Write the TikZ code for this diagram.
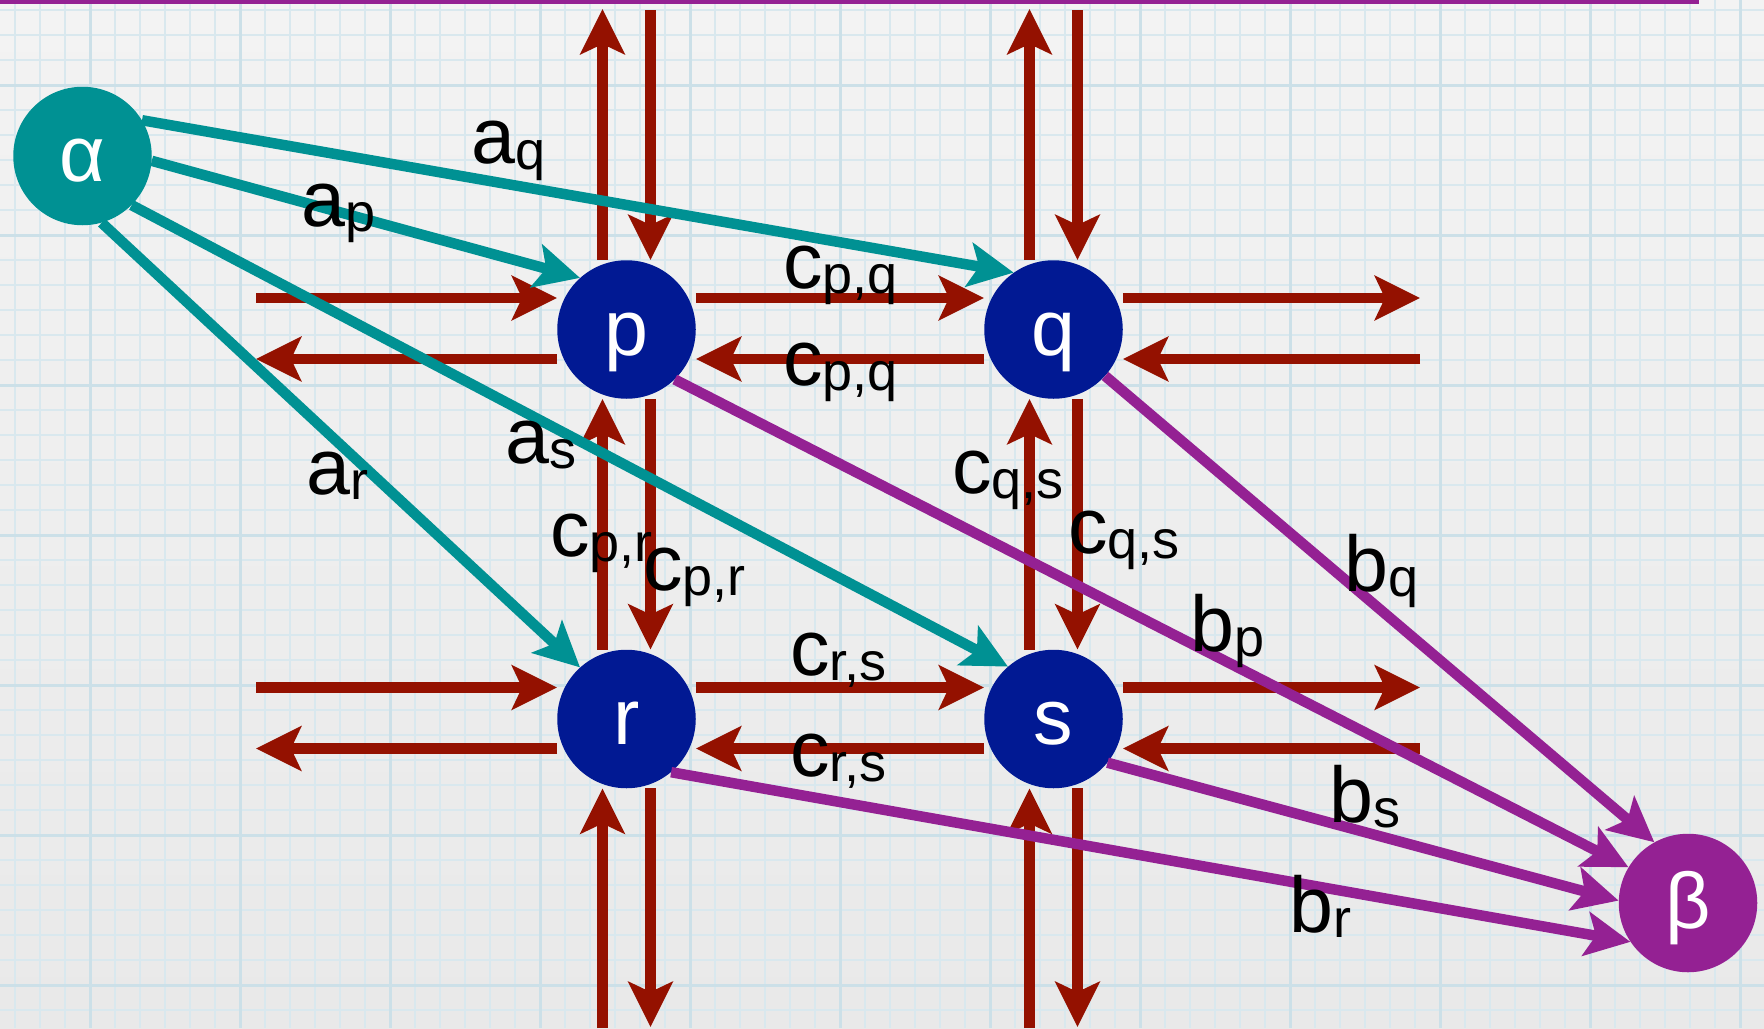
\documentclass[tikz,border=0pt]{standalone}
\usepackage{fontspec}
\setmainfont{Liberation Sans}
\usetikzlibrary{arrows.meta}

\definecolor{flowred}{HTML}{941100}
\definecolor{nodeblue}{HTML}{011993}
\definecolor{sourceteal}{HTML}{009193}
\definecolor{sinkpurple}{HTML}{942193}
\definecolor{papertop}{HTML}{F3F3F3}
\definecolor{paperbottom}{HTML}{E9E9E9}
\definecolor{gridminor}{HTML}{D9E8EE}
\definecolor{gridmajor}{HTML}{CCE0E8}

\newcommand{\bigsize}{\fontsize{79}{79}\selectfont}
\newcommand{\flowlab}[2]{{\bigsize #1\raisebox{-5.5pt}{\fontsize{54}{54}\selectfont #2}}}

\begin{document}
\begin{tikzpicture}[x=1pt,y=-1pt,
  vertex/.style={circle, minimum size=138.5pt, inner sep=0pt, text=white,
    font=\bigsize, text height=58pt, text depth=7pt},
  tip/.style={-{Stealth[length=45pt,width=44pt,inset=10pt]}},
  flow/.style={tip, draw=flowred, line width=10.5pt},
  source/.style={tip, draw=sourceteal, line width=10.5pt},
  sink/.style={tip, draw=sinkpurple, line width=10.5pt},
  lab/.style={anchor=base west, inner sep=0pt, text=black}]

% paper and grid
\useasboundingbox (0,0) rectangle (1764,1028);
\shade[top color=papertop, bottom color=paperbottom] (0,0) rectangle (1764,1028);
\begin{scope}
  \clip (0,0) rectangle (1764,1028);
  \foreach \k in {0,...,70} \draw[gridminor, line width=2pt] (15+25*\k,0) -- (15+25*\k,1028);
  \foreach \k in {0,...,41} \draw[gridminor, line width=2pt] (0,9.5+25*\k) -- (1764,9.5+25*\k);
  \foreach \k in {0,...,11} \draw[gridmajor, line width=3pt] (90+150*\k,0) -- (90+150*\k,1028);
  \foreach \k in {0,...,6} \draw[gridmajor, line width=3pt] (0,85+150*\k) -- (1764,85+150*\k);
\end{scope}
\fill[sinkpurple] (0,0) rectangle (1699,4);

% vertices
\node[vertex, fill=sourceteal] (alpha) at (82.5,156) {α};
\node[vertex, fill=nodeblue] (p) at (626.5,329.5) {p};
\node[vertex, fill=nodeblue] (q) at (1053.5,329.5) {q};
\node[vertex, fill=nodeblue] (r) at (626.5,719) {r};
\node[vertex, fill=nodeblue] (s) at (1053.5,719) {s};
\node[vertex, fill=sinkpurple] (beta) at (1688,903) {β};

% free ends of the boundary flows
\coordinate (pW1) at (256,298);   \coordinate (pW2) at (256,359);
\coordinate (rW1) at (256,687.5); \coordinate (rW2) at (256,748.5);
\coordinate (qE1) at (1420,298);  \coordinate (qE2) at (1420,359);
\coordinate (sE1) at (1420,687.5);\coordinate (sE2) at (1420,748.5);
\coordinate (pN1) at (602.5,9);   \coordinate (pN2) at (650.5,10);
\coordinate (qN1) at (1029.5,9);  \coordinate (qN2) at (1077.5,10);
\coordinate (rS1) at (602.5,1028);\coordinate (rS2) at (650.5,1027);
\coordinate (sS1) at (1029.5,1028);\coordinate (sS2) at (1077.5,1027);

% horizontal flows
\foreach \a/\b/\w/\e in {p/q/pW/qE, r/s/rW/sE}{
  \draw[flow] (\w1) -- ([yshift=31.5pt]\a.west);
  \draw[flow] ([yshift=-29.5pt]\a.west) -- (\w2);
  \draw[flow] ([yshift=31.5pt]\a.east) -- ([yshift=31.5pt]\b.west);
  \draw[flow] ([yshift=-29.5pt]\b.west) -- ([yshift=-29.5pt]\a.east);
  \draw[flow] ([yshift=31.5pt]\b.east) -- (\e1);
  \draw[flow] (\e2) -- ([yshift=-29.5pt]\b.east);
}
% vertical flows
\foreach \a/\b/\n/\m in {p/r/pN/rS, q/s/qN/sS}{
  \draw[flow] ([xshift=-24pt]\a.north) -- (\n1);
  \draw[flow] (\n2) -- ([xshift=24pt]\a.north);
  \draw[flow] ([xshift=-24pt]\b.north) -- ([xshift=-24pt]\a.south);
  \draw[flow] ([xshift=24pt]\a.south) -- ([xshift=24pt]\b.north);
  \draw[flow] (\m1) -- ([xshift=-24pt]\b.south);
  \draw[flow] ([xshift=24pt]\b.south) -- (\m2);
}

% source edges
\draw[source] (alpha.31) -- (q.125);
\draw[source] (alpha.-4.7) -- (p.132);
\draw[source] (alpha.-45) -- (s.131);
\draw[source] (alpha.-74) -- (r.132);

% sink edges
\draw[sink] (p.-46) -- (beta.149);
\draw[sink] (q.-42.6) -- (beta.119);
\draw[sink] (s.-39.6) -- (beta.178);
\draw[sink] (r.-50.4) -- (beta.214);

% capacities
\node[lab] (laq) at (471,163.5) {\flowlab{a}{q}};
\node[lab] (lap) at (301,226) {\flowlab{a}{p}};
\node[lab] (lar) at (306,494) {\flowlab{a}{r}};
\node[lab] (las) at (505,463) {\flowlab{a}{s}};
\node[lab] (lpq1) at (783,288) {\flowlab{c}{p,q}};
\node[lab] (lpq2) at (783,385) {\flowlab{c}{p,q}};
\node[lab] (lqs1) at (952,493) {\flowlab{c}{q,s}};
\node[lab] (lqs2) at (1068,553) {\flowlab{c}{q,s}};
\node[lab] (lpr1) at (550,556) {\flowlab{c}{p,r}};
\node[lab] (lpr2) at (643,590) {\flowlab{c}{p,r}};
\node[lab] (lrs1) at (790,675) {\flowlab{c}{r,s}};
\node[lab] (lrs2) at (790,776) {\flowlab{c}{r,s}};
\node[lab] (lbq) at (1344,591) {\flowlab{b}{q}};
\node[lab] (lbp) at (1190,651) {\flowlab{b}{p}};
\node[lab] (lbs) at (1329,822) {\flowlab{b}{s}};
\node[lab] (lbr) at (1289,932) {\flowlab{b}{r}};
\end{tikzpicture}
\end{document}
